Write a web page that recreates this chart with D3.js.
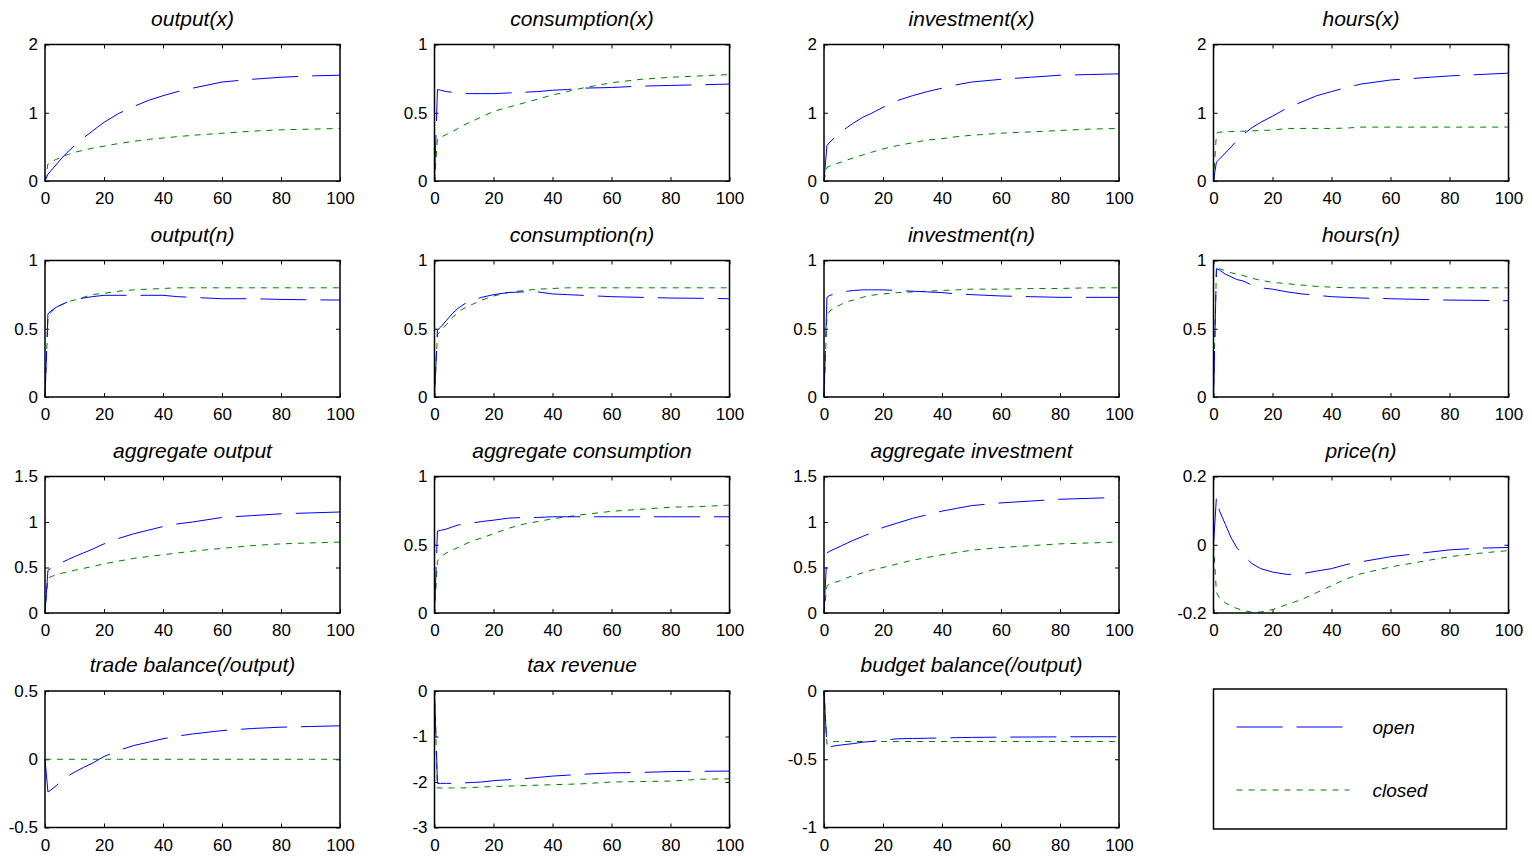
<!DOCTYPE html>
<html>
<head>
<meta charset="utf-8">
<script src="https://cdn.jsdelivr.net/npm/d3@7"></script>
<style>
  body { margin: 0; background: #fff; }
  text { font-family: 'Liberation Sans', Arial, sans-serif; fill: #000; }
  .tick text { font-size: 17px; }
  .title { font-size: 21px; font-style: italic; }
  .leg { font-size: 19px; font-style: italic; }
</style>
</head>
<body>
<svg id="chart" width="1532" height="857"></svg>
<script>
// periodos
periods = [0, 1, 2, 4, 6, 8, 10, 13, 16, 20, 25, 30, 35, 40, 45, 50, 60, 70, 80, 90, 100]

titles = ['output(x)', 'consumption(x)', 'investment(x)', 'hours(x)',
          'output(n)', 'consumption(n)', 'investment(n)', 'hours(n)',
          'aggregate output', 'aggregate consumption', 'aggregate investment', 'price(n)',
          'trade balance(/output)', 'tax revenue', 'budget balance(/output)']

yDomains = [[0, 2], [0, 1], [0, 2], [0, 2],
            [0, 1], [0, 1], [0, 1], [0, 1],
            [0, 1.5], [0, 1], [0, 1.5], [-0.2, 0.2],
            [-0.5, 0.5], [-3, 0], [-1, 0]]

yTicks = [[0, 1, 2], [0, 0.5, 1], [0, 1, 2], [0, 1, 2],
          [0, 0.5, 1], [0, 0.5, 1], [0, 0.5, 1], [0, 0.5, 1],
          [0, 0.5, 1, 1.5], [0, 0.5, 1], [0, 0.5, 1, 1.5], [-0.2, 0, 0.2],
          [-0.5, 0, 0.5], [-3, -2, -1, 0], [-1, -0.5, 0]]

xTicks = [0, 20, 40, 60, 80, 100]

legendLabels = ['open', 'closed']

// series "open"
openOutputX   = [0, 0.10, 0.15, 0.25, 0.35, 0.44, 0.52, 0.63, 0.73, 0.86, 0.99, 1.09, 1.18, 1.25, 1.31, 1.36, 1.45, 1.49, 1.52, 1.54, 1.55]
openConsX     = [0, 0.67, 0.665, 0.655, 0.65, 0.645, 0.64, 0.64, 0.64, 0.64, 0.645, 0.65, 0.655, 0.665, 0.67, 0.68, 0.685, 0.695, 0.70, 0.705, 0.71]
openInvX      = [0, 0.52, 0.57, 0.65, 0.73, 0.79, 0.85, 0.93, 0.99, 1.08, 1.18, 1.25, 1.31, 1.36, 1.41, 1.45, 1.49, 1.52, 1.55, 1.56, 1.57]
openHoursX    = [0, 0.28, 0.32, 0.41, 0.50, 0.60, 0.68, 0.78, 0.86, 0.95, 1.07, 1.16, 1.25, 1.31, 1.37, 1.42, 1.48, 1.51, 1.54, 1.56, 1.58]
openOutputN   = [0, 0.61, 0.63, 0.66, 0.68, 0.70, 0.71, 0.725, 0.735, 0.745, 0.745, 0.745, 0.745, 0.745, 0.735, 0.73, 0.72, 0.72, 0.715, 0.712, 0.71]
openConsN     = [0, 0.49, 0.51, 0.56, 0.61, 0.65, 0.68, 0.71, 0.73, 0.75, 0.765, 0.77, 0.77, 0.755, 0.75, 0.745, 0.735, 0.73, 0.725, 0.723, 0.72]
openInvN      = [0, 0.73, 0.745, 0.755, 0.765, 0.775, 0.78, 0.785, 0.785, 0.785, 0.78, 0.775, 0.77, 0.765, 0.755, 0.75, 0.74, 0.735, 0.73, 0.73, 0.73]
openHoursN    = [0, 0.94, 0.93, 0.90, 0.88, 0.86, 0.85, 0.82, 0.80, 0.79, 0.77, 0.755, 0.745, 0.735, 0.73, 0.725, 0.72, 0.715, 0.71, 0.708, 0.705]
openAggOutput = [0, 0.47, 0.49, 0.52, 0.56, 0.59, 0.62, 0.66, 0.70, 0.76, 0.82, 0.87, 0.91, 0.95, 0.98, 1.00, 1.05, 1.07, 1.09, 1.10, 1.11]
openAggCons   = [0, 0.60, 0.605, 0.615, 0.63, 0.645, 0.65, 0.66, 0.67, 0.68, 0.695, 0.70, 0.70, 0.705, 0.705, 0.705, 0.705, 0.705, 0.705, 0.705, 0.705]
openAggInv    = [0, 0.66, 0.68, 0.71, 0.74, 0.77, 0.80, 0.84, 0.88, 0.94, 0.99, 1.04, 1.08, 1.12, 1.15, 1.18, 1.21, 1.23, 1.25, 1.26, 1.27]
openPriceN    = [0, 0.14, 0.10, 0.06, 0.02, -0.01, -0.03, -0.055, -0.07, -0.08, -0.087, -0.085, -0.077, -0.07, -0.058, -0.05, -0.035, -0.025, -0.015, -0.01, -0.008]
openTrade     = [0, -0.24, -0.225, -0.19, -0.15, -0.12, -0.095, -0.06, -0.03, 0.02, 0.065, 0.10, 0.125, 0.15, 0.17, 0.185, 0.21, 0.225, 0.235, 0.24, 0.245]
openTax       = [0, -2.03, -2.03, -2.03, -2.03, -2.02, -2.02, -2.01, -2.0, -1.97, -1.95, -1.93, -1.90, -1.87, -1.85, -1.83, -1.80, -1.79, -1.77, -1.765, -1.76]
openBudget    = [0, -0.41, -0.41, -0.40, -0.395, -0.39, -0.385, -0.375, -0.37, -0.36, -0.35, -0.348, -0.346, -0.344, -0.342, -0.34, -0.338, -0.337, -0.336, -0.335, -0.335]

// series "closed"
closedOutputX   = [0, 0.25, 0.28, 0.32, 0.36, 0.39, 0.42, 0.45, 0.48, 0.51, 0.55, 0.58, 0.61, 0.63, 0.65, 0.67, 0.70, 0.73, 0.75, 0.76, 0.77]
closedConsX     = [0, 0.31, 0.32, 0.34, 0.36, 0.385, 0.41, 0.44, 0.47, 0.51, 0.54, 0.57, 0.60, 0.63, 0.655, 0.68, 0.72, 0.745, 0.76, 0.77, 0.78]
closedInvX      = [0, 0.20, 0.22, 0.25, 0.28, 0.31, 0.34, 0.38, 0.42, 0.47, 0.52, 0.56, 0.60, 0.62, 0.65, 0.67, 0.70, 0.72, 0.74, 0.76, 0.77]
closedHoursX    = [0, 0.70, 0.715, 0.72, 0.725, 0.73, 0.73, 0.735, 0.74, 0.745, 0.77, 0.77, 0.77, 0.77, 0.775, 0.79, 0.79, 0.79, 0.79, 0.79, 0.79]
closedOutputN   = [0, 0.58, 0.62, 0.66, 0.68, 0.70, 0.71, 0.73, 0.75, 0.76, 0.775, 0.785, 0.79, 0.795, 0.80, 0.80, 0.80, 0.80, 0.80, 0.80, 0.80]
closedConsN     = [0, 0.46, 0.48, 0.53, 0.58, 0.62, 0.65, 0.68, 0.71, 0.74, 0.765, 0.78, 0.79, 0.795, 0.80, 0.80, 0.80, 0.80, 0.80, 0.80, 0.80]
closedInvN      = [0, 0.60, 0.63, 0.66, 0.68, 0.70, 0.71, 0.73, 0.745, 0.755, 0.765, 0.77, 0.775, 0.78, 0.785, 0.79, 0.79, 0.795, 0.795, 0.80, 0.80]
closedHoursN    = [0, 0.95, 0.94, 0.925, 0.91, 0.90, 0.89, 0.87, 0.855, 0.84, 0.83, 0.82, 0.81, 0.805, 0.80, 0.80, 0.80, 0.80, 0.80, 0.80, 0.80]
closedAggOutput = [0, 0.38, 0.40, 0.42, 0.44, 0.45, 0.47, 0.49, 0.51, 0.54, 0.57, 0.60, 0.62, 0.64, 0.66, 0.68, 0.71, 0.74, 0.76, 0.77, 0.78]
closedAggCons   = [0, 0.38, 0.41, 0.44, 0.46, 0.48, 0.50, 0.53, 0.55, 0.58, 0.62, 0.65, 0.67, 0.69, 0.705, 0.72, 0.745, 0.76, 0.775, 0.78, 0.79]
closedAggInv    = [0, 0.30, 0.32, 0.34, 0.36, 0.39, 0.41, 0.44, 0.47, 0.50, 0.54, 0.58, 0.61, 0.64, 0.665, 0.69, 0.72, 0.74, 0.76, 0.77, 0.78]
closedPriceN    = [0, -0.14, -0.155, -0.17, -0.18, -0.187, -0.192, -0.198, -0.197, -0.19, -0.175, -0.16, -0.14, -0.12, -0.10, -0.085, -0.065, -0.05, -0.035, -0.025, -0.017]
closedTrade     = [0, 0, 0, 0, 0, 0, 0, 0, 0, 0, 0, 0, 0, 0, 0, 0, 0, 0, 0, 0, 0]
closedTax       = [0, -2.13, -2.13, -2.13, -2.13, -2.13, -2.13, -2.12, -2.11, -2.10, -2.09, -2.08, -2.07, -2.06, -2.05, -2.04, -2.00, -1.99, -1.98, -1.94, -1.93]
closedBudget    = [0, -0.39, -0.375, -0.37, -0.37, -0.37, -0.37, -0.37, -0.37, -0.37, -0.37, -0.37, -0.37, -0.37, -0.37, -0.37, -0.37, -0.37, -0.37, -0.37, -0.37]

openSeries = [openOutputX, openConsX, openInvX, openHoursX,
              openOutputN, openConsN, openInvN, openHoursN,
              openAggOutput, openAggCons, openAggInv, openPriceN,
              openTrade, openTax, openBudget]
closedSeries = [closedOutputX, closedConsX, closedInvX, closedHoursX,
                closedOutputN, closedConsN, closedInvN, closedHoursN,
                closedAggOutput, closedAggCons, closedAggInv, closedPriceN,
                closedTrade, closedTax, closedBudget]

// layout
colLeft = [45, 434.5, 824, 1213.5]
rowTop  = [44.5, 260.5, 476.5, 691]
ancho = 295
alto  = 136.5

estilo = {
  open:   { color: '#0000ff', dash: '46,14' },
  closed: { color: '#008000', dash: '6,6' }
}

svg = d3.select('#chart')

titles.forEach((t, i) => {
  col = i % 4
  row = Math.floor(i / 4)
  g = svg.append('g')
    .attr('transform', `translate(${colLeft[col]}, ${rowTop[row]})`)

  x = d3.scaleLinear().domain([0, 100]).range([0, ancho])
  y = d3.scaleLinear().domain(yDomains[i]).range([alto, 0])

  // ejes con ticks hacia dentro
  g.append('g')
    .attr('transform', `translate(0, ${alto})`)
    .call(d3.axisBottom(x).tickValues(xTicks).tickSizeInner(-4).tickSizeOuter(0).tickPadding(11))
  g.append('g')
    .call(d3.axisTop(x).tickValues(xTicks).tickSizeInner(-4).tickSizeOuter(0).tickFormat(''))
  g.append('g')
    .call(d3.axisLeft(y).tickValues(yTicks[i]).tickSizeInner(-4).tickSizeOuter(0).tickPadding(7).tickFormat(d => String(d)))
  g.append('g')
    .attr('transform', `translate(${ancho}, 0)`)
    .call(d3.axisRight(y).tickValues(yTicks[i]).tickSizeInner(-4).tickSizeOuter(0).tickFormat(''))
  g.selectAll('.domain').remove()
  g.selectAll('.tick line').attr('stroke', '#000')

  linea = d3.line()
    .x((d, j) => x(periods[j]))
    .y(d => y(d))

  g.append('path')
    .attr('fill', 'none')
    .attr('stroke', estilo.closed.color)
    .attr('stroke-width', 1)
    .attr('stroke-dasharray', estilo.closed.dash)
    .attr('d', linea(closedSeries[i]))
  g.append('path')
    .attr('fill', 'none')
    .attr('stroke', estilo.open.color)
    .attr('stroke-width', 1)
    .attr('stroke-dasharray', estilo.open.dash)
    .attr('d', linea(openSeries[i]))

  g.append('rect')
    .attr('width', ancho)
    .attr('height', alto)
    .attr('fill', 'none')
    .attr('stroke', '#000')
    .attr('stroke-width', 1.5)

  g.append('text')
    .attr('class', 'title')
    .attr('x', ancho / 2)
    .attr('y', -19)
    .attr('text-anchor', 'middle')
    .text(t)
})

// leyenda
leg = svg.append('g').attr('transform', 'translate(1213.5, 689)')
leg.append('rect')
  .attr('width', 293)
  .attr('height', 140)
  .attr('fill', 'none')
  .attr('stroke', '#000')
  .attr('stroke-width', 1.5)

legendLabels.forEach((l, i) => {
  ly = 38 + i * 63
  leg.append('line')
    .attr('x1', 23).attr('x2', 136)
    .attr('y1', ly).attr('y2', ly)
    .attr('stroke', estilo[l].color)
    .attr('stroke-width', 1)
    .attr('stroke-dasharray', estilo[l].dash)
  leg.append('text')
    .attr('class', 'leg')
    .attr('x', 159)
    .attr('y', ly + 7)
    .text(l)
})
</script>
</body>
</html>
